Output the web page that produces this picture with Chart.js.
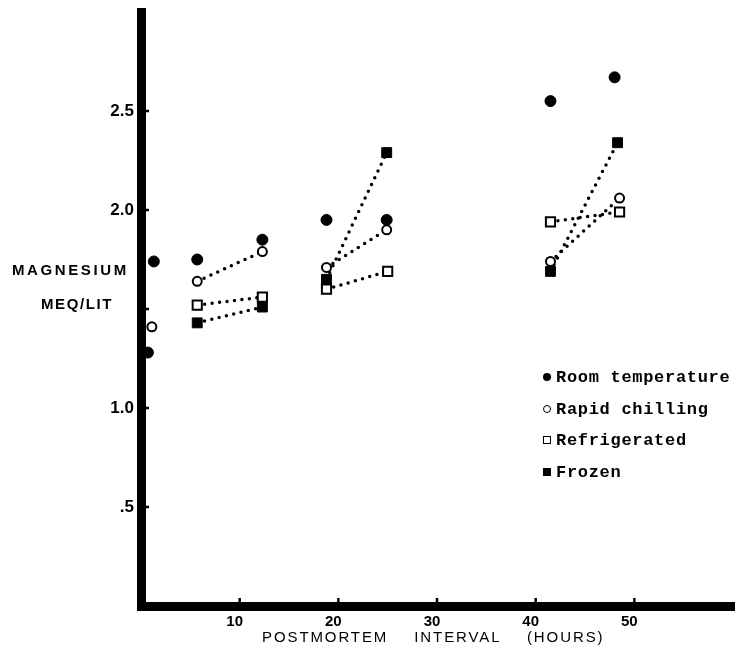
<!DOCTYPE html>
<html lang="en">
<head>
  <meta charset="UTF-8" />
  <title>Magnesium vs postmortem interval</title>
  <script src="https://cdn.jsdelivr.net/npm/chart.js"></script>
  <style>
    body { margin: 0; background: #fff; }
    #wrap { position: relative; width: 735px; height: 655px; }
    .ylab {
      position: absolute;
      font-family: 'Liberation Sans', Arial, sans-serif;
      font-weight: bold;
      font-size: 15px;
      letter-spacing: 2.6px;
      color: #000;
    }
    .xtitle {
      position: absolute;
      left: 262px;
      top: 628px;
      font-family: 'Liberation Sans', Arial, sans-serif;
      font-size: 15px;
      letter-spacing: 1.9px;
      word-spacing: 20px;
      color: #000;
      white-space: nowrap;
    }
    .legend {
      position: absolute;
      left: 543px;
      top: 362px;
      font-family: 'Liberation Mono', monospace;
      font-weight: bold;
      font-size: 17px;
      letter-spacing: 0.7px;
      color: #000;
    }
    .legend div { height: 31.7px; line-height: 31.7px; white-space: nowrap; }
    .mk { display: inline-block; width: 8px; height: 8px; margin-right: 5px; vertical-align: 1px; box-sizing: border-box; }
    .mk.dot { background: #000; border-radius: 50%; }
    .mk.ring { border: 1.5px solid #000; border-radius: 50%; }
    .mk.box { border: 1.5px solid #000; }
    .mk.block { background: #000; }
  </style>
</head>
<body>
  <div id="wrap">
    <canvas id="chart" width="735" height="655"></canvas>
    <div class="ylab" style="left:12px; top:261px;">MAGNESIUM</div>
    <div class="ylab" style="left:41px; top:295px; letter-spacing:1.6px;">MEQ/LIT</div>
    <div class="xtitle">POSTMORTEM INTERVAL (HOURS)</div>
    <div class="legend">
      <div><span class="mk dot"></span>Room temperature</div>
      <div><span class="mk ring"></span>Rapid chilling</div>
      <div><span class="mk box"></span>Refrigerated</div>
      <div><span class="mk block"></span>Frozen</div>
    </div>
  </div>

  <script>
    // values (hours, meq/lit)
    const roomHours = [1.3, 0.7, 5.7, 12.3, 18.8, 24.9, 41.5, 48.0];
    const roomMg    = [1.74, 1.28, 1.75, 1.85, 1.95, 1.95, 2.55, 2.67];

    const chillHours = [1.1, 5.7, 12.3, 18.8, 24.9, 41.5, 48.5];
    const chillMg    = [1.41, 1.64, 1.79, 1.71, 1.90, 1.74, 2.06];
    const chillLinks = [[1, 2], [3, 4], [5, 6]];

    const fridgeHours = [5.7, 12.3, 18.8, 25.0, 41.5, 48.5];
    const fridgeMg    = [1.52, 1.56, 1.60, 1.69, 1.94, 1.99];
    const fridgeLinks = [[0, 1], [2, 3], [4, 5]];

    const frozenHours = [5.7, 12.3, 18.8, 24.9, 41.5, 48.3];
    const frozenMg    = [1.43, 1.51, 1.65, 2.29, 1.69, 2.34];
    const frozenLinks = [[0, 1], [2, 3], [4, 5]];

    const xTickVals = [10, 20, 30, 40, 50];
    const yTickVals = [0.5, 1, 2, 2.5];
    const yTickText = ['.5', '1.0', '2.0', '2.5'];

    function pts(xs, ys) {
      return xs.map((x, i) => ({ x: x, y: ys[i] }));
    }

    // pairs joined by a dotted line, broken by a null point
    function links(xs, ys, pairs) {
      const out = [];
      pairs.forEach(([a, b]) => {
        out.push({ x: xs[a], y: ys[a] }, { x: xs[b], y: ys[b] }, { x: xs[b], y: null });
      });
      return out;
    }

    const dotted = {
      showLine: true,
      pointRadius: 0,
      pointHoverRadius: 0,
      borderColor: '#000',
      borderWidth: 3.5,
      borderDash: [0, 7.5],
      borderCapStyle: 'round',
      spanGaps: false,
      clip: false
    };

    const tickMarks = {
      id: 'tickMarks',
      afterDatasetsDraw(chart) {
        const { ctx, scales: { x, y }, chartArea } = chart;
        ctx.save();
        ctx.strokeStyle = '#000';
        ctx.lineWidth = 2.5;
        y.ticks.forEach(t => {
          if (t.value <= 0 || t.value >= 3) return;
          const py = y.getPixelForValue(t.value);
          ctx.beginPath();
          ctx.moveTo(chartArea.left + 3, py);
          ctx.lineTo(chartArea.left + 8, py);
          ctx.stroke();
        });
        xTickVals.forEach(v => {
          const px = x.getPixelForValue(v);
          ctx.beginPath();
          ctx.moveTo(px, chartArea.bottom - 3);
          ctx.lineTo(px, chartArea.bottom - 8);
          ctx.stroke();
        });
        ctx.restore();
      }
    };

    new Chart(document.getElementById('chart'), {
      type: 'scatter',
      data: {
        datasets: [
          { label: 'Room temperature', data: pts(roomHours, roomMg), pointStyle: 'circle', pointRadius: 5.5,
            backgroundColor: '#000', borderColor: '#000', borderWidth: 1, clip: false },
          { label: 'Rapid chilling', data: pts(chillHours, chillMg), pointStyle: 'circle', pointRadius: 4.5,
            backgroundColor: '#fff', borderColor: '#000', borderWidth: 2, clip: false },
          { label: 'Refrigerated', data: pts(fridgeHours, fridgeMg), pointStyle: 'rect', pointRadius: 6.5,
            backgroundColor: '#fff', borderColor: '#000', borderWidth: 2, clip: false },
          { label: 'Frozen', data: pts(frozenHours, frozenMg), pointStyle: 'rect', pointRadius: 7,
            backgroundColor: '#000', borderColor: '#000', borderWidth: 1, clip: false },
          Object.assign({ label: 'chill line', data: links(chillHours, chillMg, chillLinks) }, dotted),
          Object.assign({ label: 'fridge line', data: links(fridgeHours, fridgeMg, fridgeLinks) }, dotted),
          Object.assign({ label: 'frozen line', data: links(frozenHours, frozenMg, frozenLinks) }, dotted)
        ]
      },
      options: {
        responsive: false,
        animation: false,
        events: [],
        layout: { autoPadding: false, padding: { top: 12, right: 0, bottom: 0, left: 0 } },
        plugins: { legend: { display: false }, tooltip: { enabled: false } },
        scales: {
          x: {
            type: 'linear',
            min: 0,
            max: 60.2,
            afterFit: s => { s.height = 49; s.paddingLeft = 0; s.paddingRight = 0; },
            grid: { display: true, drawOnChartArea: false, drawTicks: false, color: 'rgba(0,0,0,0)' },
            border: { display: true, color: '#000', width: 9 },
            ticks: {
              stepSize: 10,
              padding: 7,
              labelOffset: -5,
              color: '#000',
              maxRotation: 0,
              font: { family: "'Liberation Sans Narrow', 'Liberation Sans', Arial, sans-serif", size: 15, weight: 'bold' },
              callback: v => xTickVals.includes(v) ? String(v) : ''
            }
          },
          y: {
            type: 'linear',
            min: 0,
            max: 3,
            afterFit: s => { s.width = 141; s.paddingTop = 0; s.paddingBottom = 0; },
            grid: { display: true, drawOnChartArea: false, drawTicks: false, color: 'rgba(0,0,0,0)' },
            border: { display: true, color: '#000', width: 9 },
            ticks: {
              stepSize: 0.5,
              padding: 7,
              color: '#000',
              font: { family: "'Liberation Sans', Arial, sans-serif", size: 17, weight: 'bold' },
              callback: v => {
                const i = yTickVals.indexOf(v);
                return i >= 0 ? yTickText[i] : '';
              }
            }
          }
        }
      },
      plugins: [tickMarks]
    });
  </script>
</body>
</html>
